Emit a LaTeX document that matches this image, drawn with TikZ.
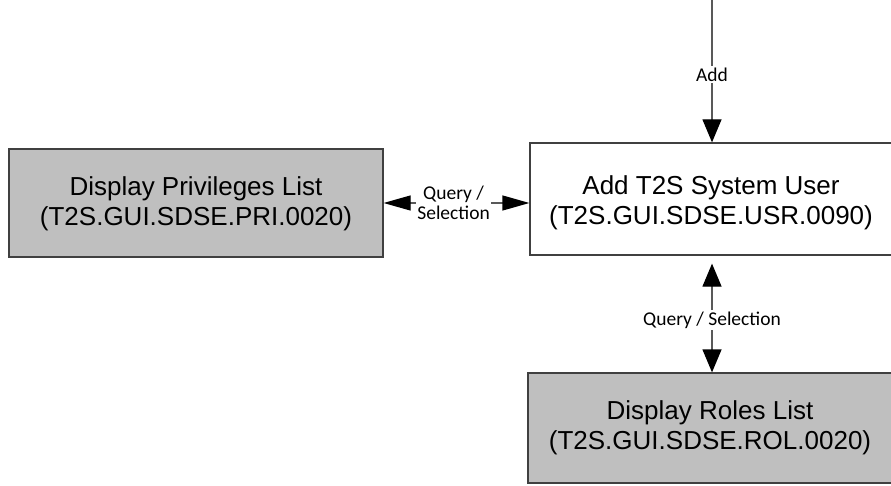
\documentclass[tikz,border=0pt]{standalone}
\usepackage{fontspec}
\setmainfont{Liberation Sans}
\newfontfamily\lblfont{Carlito}
\usetikzlibrary{arrows.meta}
\tikzset{
  vtip/.tip={Triangle[length=23pt,width=19pt,color=black]},
  htip/.tip={Triangle[length=27pt,width=15pt,color=black]}
}
\begin{document}
\begin{tikzpicture}[x=1pt,y=-1pt,
  box/.style={draw=black!75, line width=1.3pt, inner sep=0pt},
  boxtext/.style={align=center, inner sep=0pt, font=\fontsize{26}{30}\selectfont},
  graybox/.style={box, fill=black!25},
  conn/.style={draw=black!65, line width=1.3pt},
  lbl/.style={font=\lblfont\fontsize{19.5}{19.5}\selectfont, fill=white, inner sep=1.5pt, align=center}]
\useasboundingbox (0,0) rectangle (891,486);
\node[graybox, minimum width=374pt, minimum height=108pt] (pri) at (196,203) {};
\node[boxtext] (pritext) at ([yshift=-1pt]pri.center) {Display Privileges List\\(T2S.GUI.SDSE.PRI.0020)};
\node[box, fill=white, minimum width=362pt, minimum height=112pt] (usr) at (711,199) {};
\node[boxtext] (usrtext) at ([yshift=-4pt]usr.center) {Add T2S System User\\(T2S.GUI.SDSE.USR.0090)};
\node[graybox, minimum width=364pt, minimum height=110pt] (rol) at (710,428) {};
\node[boxtext] (roltext) at (rol.center) {Display Roles List\\(T2S.GUI.SDSE.ROL.0020)};
\coordinate (src) at (712,-2);
\draw[conn, -vtip] (src) -- node[lbl, pos=0.53] {Add} (src |- usr.north);
\draw[conn, htip-htip] (pri.east) -- node[lbl, pos=0.48] {Query /\\Selection} (pri.east -| usr.west);
\draw[conn, vtip-vtip, shorten <=8pt] (usr.south -| src) -- node[lbl, pos=0.55] {Query / Selection} (rol.north -| src);
\end{tikzpicture}
\end{document}
